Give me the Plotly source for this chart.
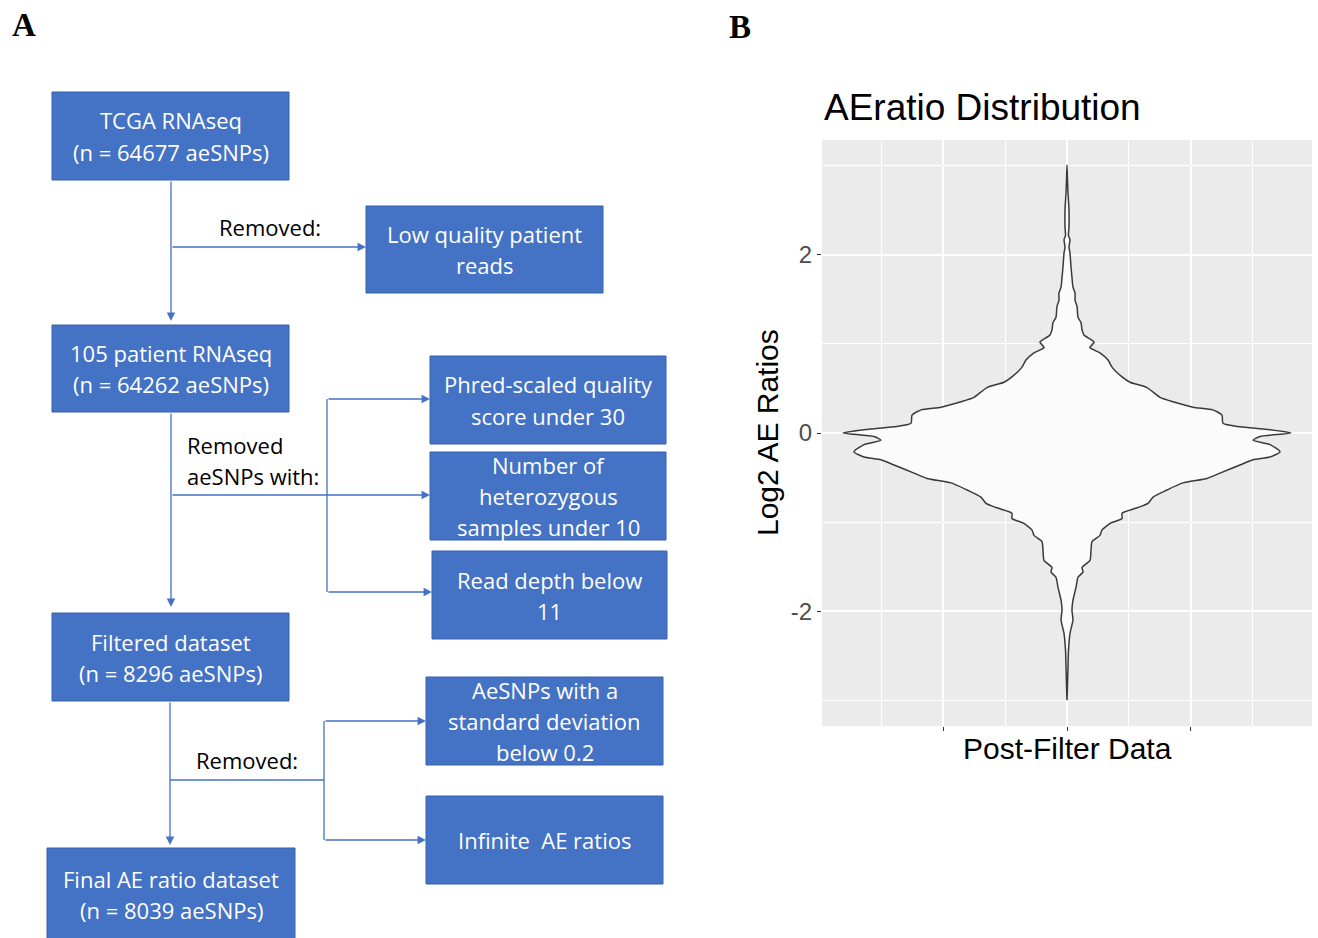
import plotly.graph_objects as go

W, H = 1318, 938

# ---------------- Panel B data: violin outline of log2 AE ratios ----------------
# y positions (log2 AE ratio) and the half-width of the density at each position
VIOLIN_Y = [3.01, 2.84, 2.70, 2.51, 2.31, 2.22, 2.17, 2.09, 2.02, 1.87, 1.75, 1.64,
            1.57, 1.49, 1.42, 1.30, 1.24, 1.16, 1.10, 1.02, 0.96, 0.90, 0.82, 0.74,
            0.63, 0.57, 0.51, 0.40, 0.35, 0.29, 0.26, 0.20, 0.11, 0.07, 0.04, 0.00,
            -0.04, -0.08, -0.13, -0.21, -0.27, -0.30, -0.36, -0.45, -0.51, -0.56,
            -0.64, -0.72, -0.79, -0.84, -0.90, -0.96, -1.01, -1.09, -1.15, -1.22,
            -1.31, -1.43, -1.51, -1.56, -1.62, -1.73, -1.88, -1.99, -2.10, -2.25,
            -2.44, -2.63, -2.83, -3.00]
VIOLIN_HALF_WIDTH = [0.000, 0.004, 0.008, 0.016, 0.016, 0.012, 0.024, 0.016, 0.024,
                     0.032, 0.040, 0.048, 0.065, 0.065, 0.081, 0.089, 0.113, 0.121,
                     0.137, 0.218, 0.185, 0.266, 0.331, 0.363, 0.444, 0.508, 0.645,
                     0.750, 0.855, 1.016, 1.177, 1.250, 1.258, 1.395, 1.613, 1.806,
                     1.556, 1.500, 1.637, 1.718, 1.637, 1.500, 1.395, 1.234, 1.129,
                     0.935, 0.806, 0.694, 0.653, 0.565, 0.444, 0.444, 0.355, 0.282,
                     0.266, 0.202, 0.194, 0.185, 0.121, 0.129, 0.089, 0.073, 0.048,
                     0.040, 0.048, 0.024, 0.012, 0.008, 0.004, 0.000]

Y_TICKS = [-2, 0, 2]
Y_TICK_LABELS = ["-2", "0", "2"]
X_TICKS = [-1, 0, 1]

CHART_TITLE = "AEratio Distribution"
X_TITLE = "Post-Filter Data"
Y_TITLE = "Log2 AE Ratios"

# ---------------- Panel A data: flowchart steps ----------------
STEP_TEXT = [
    "TCGA RNAseq\n(n = 64677 aeSNPs)",
    "Low quality patient\nreads",
    "105 patient RNAseq\n(n = 64262 aeSNPs)",
    "Phred-scaled quality\nscore under 30",
    "Number of\nheterozygous\nsamples under 10",
    "Read depth below\n11",
    "Filtered dataset\n(n = 8296 aeSNPs)",
    "AeSNPs with a\nstandard deviation\nbelow 0.2",
    "Infinite  AE ratios",
    "Final AE ratio dataset\n(n = 8039 aeSNPs)",
]
REMOVED_LABELS = ["Removed:", "Removed\naeSNPs with:", "Removed:"]
PANEL_LETTERS = ["A", "B"]

# ---------------- layout geometry (pixels, origin top-left) ----------------
BOX_RECTS = [  # x0, y0, x1, y1
    (52, 92, 289, 180),
    (366, 206, 603, 293),
    (52, 325, 289, 412),
    (430, 356, 666, 444),
    (430, 452, 666, 540),
    (432, 551, 667, 639),
    (52, 613, 289, 701),
    (426, 677, 663, 765),
    (426, 796, 663, 884),
    (47, 848, 295, 941),
]
ARROWS = [  # tail x, tail y, head x, head y
    (171, 180, 171, 321),
    (171, 247, 366, 247),
    (171, 412, 171, 607),
    (171, 495, 430, 495),
    (327, 399, 430, 399),
    (327, 592, 432, 592),
    (170, 701, 170, 845),
    (324, 721, 426, 721),
    (324, 840, 426, 840),
]
PLAIN_LINES = [
    (327, 399, 327, 592),
    (170, 780, 324, 780),
    (324, 721, 324, 840),
]
LABEL_POS = [(217, 227), (185, 445), (194, 760)]
LETTER_POS = [(10, 25), (727, 27)]

BOX_FILL = "#4472C4"
BOX_EDGE = "#3660AE"
LINK = "#4472C4"
BOX_FONT = "Open Sans"
LINE_GAP = 31


def fx(x):
    return x / W


def fy(y):
    return 1 - y / H


shapes = []
annotations = []

# flowchart boxes and their text
for (x0, y0, x1, y1), text in zip(BOX_RECTS, STEP_TEXT):
    shapes.append(dict(type="rect", xref="paper", yref="paper",
                       x0=fx(x0), x1=fx(x1), y0=fy(y1), y1=fy(y0),
                       fillcolor=BOX_FILL, line=dict(color=BOX_EDGE, width=1),
                       layer="above"))
    lines = text.split("\n")
    cx, cy = (x0 + x1) / 2, (y0 + y1) / 2
    for i, ln in enumerate(lines):
        ly = cy + (i - (len(lines) - 1) / 2) * LINE_GAP
        annotations.append(dict(xref="paper", yref="paper", x=fx(cx), y=fy(ly),
                                text=ln, showarrow=False, xanchor="center",
                                yanchor="middle",
                                font=dict(family=BOX_FONT, size=22, color="white")))

# connectors without heads
for x0, y0, x1, y1 in PLAIN_LINES:
    shapes.append(dict(type="line", xref="paper", yref="paper",
                       x0=fx(x0), y0=fy(y0), x1=fx(x1), y1=fy(y1),
                       line=dict(color=LINK, width=1.3)))

# connectors with arrow heads
for tx, ty, hx, hy in ARROWS:
    annotations.append(dict(xref="paper", yref="paper", x=fx(hx), y=fy(hy),
                            ax=tx - hx, ay=ty - hy, axref="pixel", ayref="pixel",
                            text="", showarrow=True, arrowhead=2, arrowsize=1.3,
                            arrowwidth=1.3, arrowcolor=LINK, standoff=0,
                            startstandoff=0))

# "Removed" labels beside the connectors
for (lx, ly), text in zip(LABEL_POS, REMOVED_LABELS):
    for i, ln in enumerate(text.split("\n")):
        annotations.append(dict(xref="paper", yref="paper", x=fx(lx),
                                y=fy(ly + i * LINE_GAP), text=ln, showarrow=False,
                                xanchor="left", yanchor="middle",
                                font=dict(family=BOX_FONT, size=22, color="black")))

# panel letters
for (lx, ly), letter in zip(LETTER_POS, PANEL_LETTERS):
    annotations.append(dict(xref="paper", yref="paper", x=fx(lx), y=fy(ly),
                            text="<b>%s</b>" % letter, showarrow=False,
                            xanchor="left", yanchor="middle",
                            font=dict(family="Liberation Serif", size=33,
                                      color="black")))

# ---------------- Panel B: violin ----------------
PLOT_X0, PLOT_X1, PLOT_Y0, PLOT_Y1 = 822, 1312, 140, 726
SANS = "Liberation Sans"

vx = list(VIOLIN_HALF_WIDTH) + [-w for w in VIOLIN_HALF_WIDTH[::-1]]
vy = list(VIOLIN_Y) + list(VIOLIN_Y[::-1])

fig = go.Figure()
fig.add_trace(go.Scatter(x=vx, y=vy, mode="lines", fill="toself",
                         fillcolor="#FBFBFB",
                         line=dict(color="#3A3A3A", width=1.5, shape="spline",
                                   smoothing=0.6),
                         hoverinfo="skip", showlegend=False))

annotations += [
    dict(xref="paper", yref="paper", x=fx(PLOT_X0), y=fy(107), text=CHART_TITLE,
         showarrow=False, xanchor="left", yanchor="middle",
         font=dict(family=SANS, size=37, color="black")),
    dict(xref="paper", yref="paper", x=fx(1067), y=fy(748), text=X_TITLE,
         showarrow=False, xanchor="center", yanchor="middle",
         font=dict(family=SANS, size=30, color="black")),
    dict(xref="paper", yref="paper", x=fx(768), y=fy(433), text=Y_TITLE,
         showarrow=False, xanchor="center", yanchor="middle", textangle=-90,
         font=dict(family=SANS, size=30, color="black")),
]

fig.update_layout(
    width=W, height=H,
    margin=dict(l=0, r=0, t=0, b=0),
    paper_bgcolor="white",
    plot_bgcolor="#EBEBEB",
    showlegend=False,
    shapes=shapes,
    annotations=annotations,
    xaxis=dict(domain=[fx(PLOT_X0), fx(PLOT_X1)], range=[-1.976, 1.976],
               tickmode="array", tickvals=X_TICKS, showticklabels=False,
               ticks="outside", ticklen=4, tickwidth=1, tickcolor="#333333",
               showgrid=True, gridcolor="white", gridwidth=1.6,
               zeroline=False, showline=False, fixedrange=True,
               minor=dict(tickmode="array", tickvals=[-1.5, -0.5, 0.5, 1.5],
                          showgrid=True, gridcolor="white", gridwidth=0.8,
                          ticks="")),
    yaxis=dict(domain=[1 - PLOT_Y1 / H, 1 - PLOT_Y0 / H], range=[-3.29, 3.29],
               tickmode="array", tickvals=Y_TICKS, ticktext=Y_TICK_LABELS,
               ticks="outside", ticklen=4, tickwidth=1, tickcolor="#333333",
               tickfont=dict(family=SANS, size=24, color="#4D4D4D"),
               showgrid=True, gridcolor="white", gridwidth=1.6,
               zeroline=False, showline=False, fixedrange=True,
               minor=dict(tickmode="array", tickvals=[-3, -1, 1, 3],
                          showgrid=True, gridcolor="white", gridwidth=0.8,
                          ticks="")),
)

fig.write_html("out.html")
